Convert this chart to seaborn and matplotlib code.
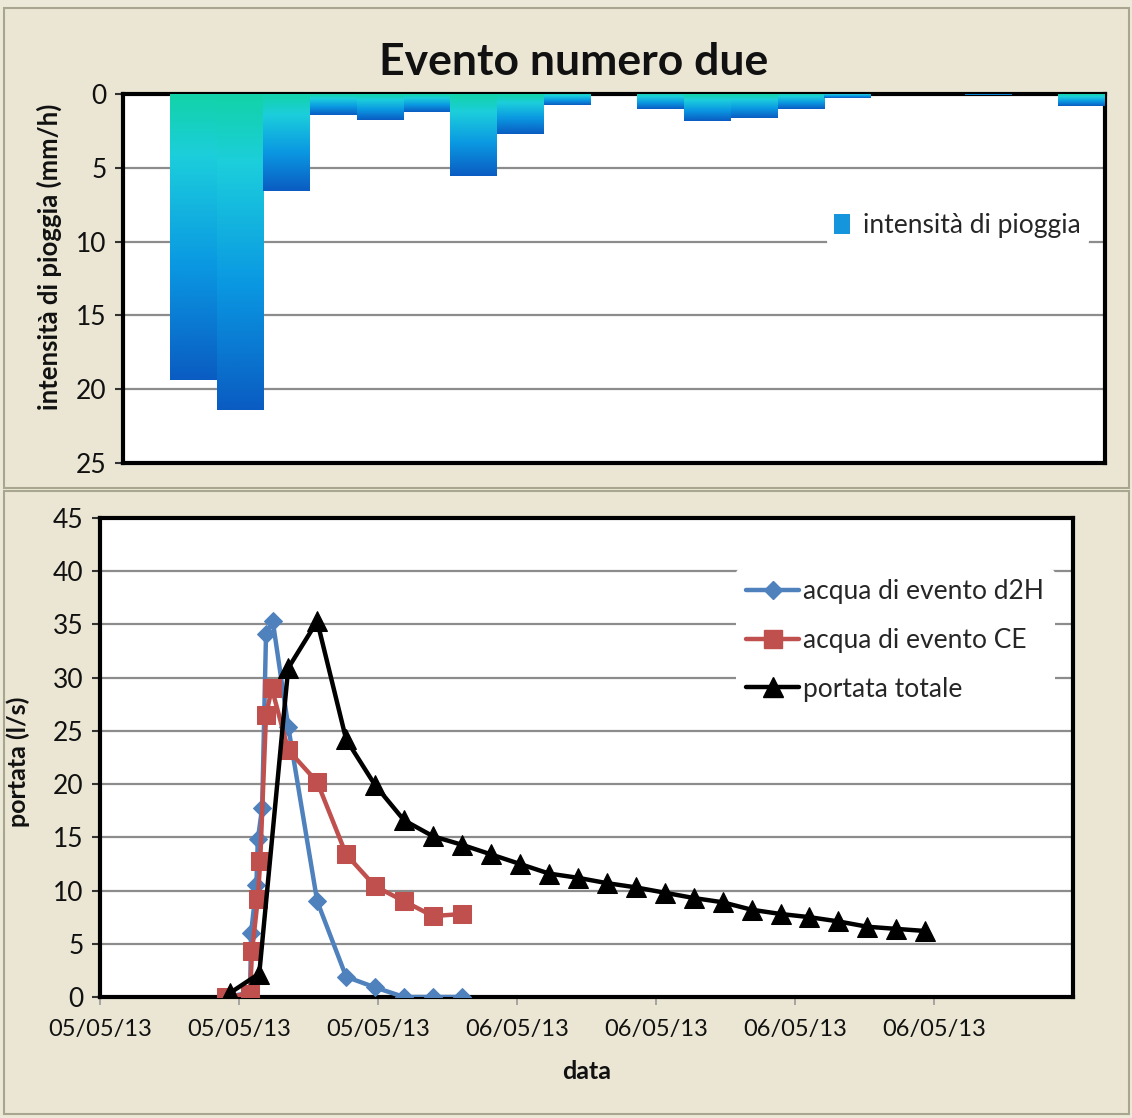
import numpy as np
import pandas as pd
import matplotlib
matplotlib.use("Agg")
import matplotlib.pyplot as plt
import matplotlib.dates as mdates
from matplotlib.ticker import FixedLocator
from matplotlib.colors import LinearSegmentedColormap
from matplotlib.patches import Rectangle, Patch
from matplotlib.lines import Line2D
from matplotlib import font_manager
import seaborn as sns

# ---------------- data ----------------
rain_slot = list(range(21))
rain_intensity = [0, 19.4, 21.4, 6.6, 1.4, 1.75, 1.2, 5.55, 2.7, 0.75, 0,
                  1.05, 1.8, 1.6, 1.05, 0.3, 0, 0, 0.1, 0, 0.8]

d2h_times = ["2013-05-05 16:21", "2013-05-05 17:11", "2013-05-05 17:13",
             "2013-05-05 17:24", "2013-05-05 17:27", "2013-05-05 17:36",
             "2013-05-05 17:44", "2013-05-05 17:58", "2013-05-05 18:30",
             "2013-05-05 19:30", "2013-05-05 20:30", "2013-05-05 21:30",
             "2013-05-05 22:30", "2013-05-05 23:30", "2013-05-06 00:30"]
d2h_values = [0.0, 0.4, 6.0, 10.5, 14.8, 17.8, 34.1, 35.3, 25.4, 9.0, 1.9, 0.9,
              0.0, 0.0, 0.0]

ce_times = ["2013-05-05 16:21", "2013-05-05 17:11", "2013-05-05 17:15",
            "2013-05-05 17:27", "2013-05-05 17:32", "2013-05-05 17:44",
            "2013-05-05 17:56", "2013-05-05 18:30", "2013-05-05 19:30",
            "2013-05-05 20:30", "2013-05-05 21:30", "2013-05-05 22:30",
            "2013-05-05 23:30", "2013-05-06 00:30"]
ce_values = [0.0, 0.3, 4.3, 9.2, 12.8, 26.5, 29.0, 23.2, 20.2, 13.4, 10.4, 9.0,
             7.6, 7.8]

tot_times = ["2013-05-05 16:30", "2013-05-05 17:30", "2013-05-05 18:30",
             "2013-05-05 19:30", "2013-05-05 20:30", "2013-05-05 21:30",
             "2013-05-05 22:30", "2013-05-05 23:30", "2013-05-06 00:30",
             "2013-05-06 01:30", "2013-05-06 02:30", "2013-05-06 03:30",
             "2013-05-06 04:30", "2013-05-06 05:30", "2013-05-06 06:30",
             "2013-05-06 07:30", "2013-05-06 08:30", "2013-05-06 09:30",
             "2013-05-06 10:30", "2013-05-06 11:30", "2013-05-06 12:30",
             "2013-05-06 13:30", "2013-05-06 14:30", "2013-05-06 15:30",
             "2013-05-06 16:30"]
tot_values = [0.4, 2.2, 30.9, 35.3, 24.2, 19.9, 16.6, 15.1, 14.3, 13.4, 12.5,
              11.6, 11.2, 10.7, 10.3, 9.8, 9.3, 8.9, 8.2, 7.8, 7.5, 7.1, 6.6,
              6.4, 6.2]

axis_start = "2013-05-05 12:00"
tick_step_days = 0.2
n_ticks = 7
axis_span_days = 1.4

title = "Evento numero due"
rain_label = "intensità di pioggia"
rain_ylabel = "intensità di pioggia (mm/h)"
q_ylabel = "portata (l/s)"
q_xlabel = "data"
series_labels = ["acqua di evento d2H", "acqua di evento CE", "portata totale"]

# ---------------- style ----------------
sns.set_theme(style="white")
avail = {f.name for f in font_manager.fontManager.ttflist}
fam = [f for f in ["Liberation Sans Narrow", "Lato", "DejaVu Sans"] if f in avail]
plt.rcParams["font.family"] = fam

BG = "#ECE9D8"
fig = plt.figure(figsize=(11.32, 11.18), dpi=100, facecolor=BG)
W, H = 1132, 1118

def fr(x0, y0, x1, y1):
    return [x0 / W, 1 - y1 / H, (x1 - x0) / W, (y1 - y0) / H]

# panels (drawn beneath the axes)
for (x0, y0, x1, y1) in [(4, 8, 1129, 488), (4, 491, 1129, 1114)]:
    fig.patches.append(Rectangle((x0 / W, 1 - y1 / H), (x1 - x0) / W, (y1 - y0) / H,
                                 transform=fig.transFigure, facecolor="#EAE6D3",
                                 edgecolor="#A9A690", linewidth=1.5, zorder=-5))

# ---------------- top chart ----------------
ax1 = fig.add_axes(fr(123, 94, 1105, 463))
ax1.set_zorder(2)
ax1.set_facecolor("white")
sns.barplot(x=rain_slot, y=rain_intensity, width=1.0, color="#1090D8",
            saturation=1, linewidth=0, ax=ax1, zorder=2)
cmap = LinearSegmentedColormap.from_list(
    "rain", [(0, "#12D3A8"), (0.22, "#1CCEDC"), (0.6, "#0A98E2"), (1, "#0A5CC2")])
grad = np.linspace(0, 1, 256).reshape(-1, 1)
for p in list(ax1.patches):
    x0, y0, w, h = p.get_x(), p.get_y(), p.get_width(), p.get_height()
    if h <= 0:
        continue
    im = ax1.imshow(grad, cmap=cmap, aspect="auto", origin="upper",
                    extent=(x0, x0 + w, y0 + h, y0), zorder=3, interpolation="bilinear")
    im.set_clip_path(p)
ax1.set_xlim(-0.5, len(rain_slot) - 0.5)
ax1.set_ylim(25, 0)
ax1.set_yticks([0, 5, 10, 15, 20, 25])
ax1.set_xticks([])
ax1.yaxis.grid(True, color="#8C8C8C", linewidth=1.6, zorder=1)
ax1.set_axisbelow(True)
ax1.tick_params(axis="y", labelsize=19, length=6, width=1.5, color="#333333",
                left=True, pad=6, labelcolor="#111111")
for s in ax1.spines.values():
    s.set_color("black")
    s.set_linewidth(3)
ax1.set_xlabel("")
ax1.set_ylabel(rain_ylabel, fontsize=18.5, fontweight="bold", color="#111111")
ax1.yaxis.set_label_coords(-0.062, 0.56)
fig.text(574 / W, 1 - 62 / H, title, ha="center", va="center",
         fontsize=32, fontweight="bold", color="#111111")
leg1 = ax1.legend(handles=[Patch(facecolor="#1596DC", edgecolor="none")],
                  labels=[rain_label], loc="center left",
                  bbox_to_anchor=(0.703, 0.643), frameon=True, fontsize=19,
                  handlelength=0.6, handleheight=0.8, handletextpad=0.5,
                  borderpad=0.3)
leg1.get_frame().set_facecolor("white")
leg1.get_frame().set_edgecolor("none")
leg1.get_frame().set_alpha(1)

# ---------------- bottom chart ----------------
ax2 = fig.add_axes(fr(100, 518, 1073, 997))
ax2.set_zorder(2)
ax2.set_facecolor("white")
df_d2h = pd.DataFrame({"t": pd.to_datetime(d2h_times), "q": d2h_values})
df_ce = pd.DataFrame({"t": pd.to_datetime(ce_times), "q": ce_values})
df_tot = pd.DataFrame({"t": pd.to_datetime(tot_times), "q": tot_values})

sns.lineplot(data=df_d2h, x="t", y="q", ax=ax2, color="#4F81BD", linewidth=3.2,
             marker="D", markersize=9, markeredgecolor="#4F81BD",
             estimator=None, sort=False, zorder=4)
sns.lineplot(data=df_ce, x="t", y="q", ax=ax2, color="#C0504D", linewidth=3.2,
             marker="s", markersize=13, markeredgecolor="#C0504D",
             estimator=None, sort=False, zorder=5)
sns.lineplot(data=df_tot, x="t", y="q", ax=ax2, color="black", linewidth=3.2,
             marker="^", markersize=14, markeredgecolor="black",
             estimator=None, sort=False, zorder=6)

t0 = pd.Timestamp(axis_start)
x0n = mdates.date2num(t0)
ax2.set_xlim(x0n, x0n + axis_span_days)
ax2.xaxis.set_major_locator(FixedLocator([x0n + k * tick_step_days for k in range(n_ticks)]))
ax2.xaxis.set_major_formatter(mdates.DateFormatter("%d/%m/%y"))
ax2.set_ylim(0, 45)
ax2.set_yticks(range(0, 50, 5))
ax2.yaxis.grid(True, color="#8C8C8C", linewidth=1.6, zorder=1)
ax2.xaxis.grid(False)
ax2.set_axisbelow(True)
ax2.tick_params(axis="y", labelsize=19, length=6, width=1.5, color="#333333",
                left=True, pad=6, labelcolor="#111111")
ax2.tick_params(axis="x", labelsize=17, length=6, width=1.2, color="#999999",
                bottom=True, pad=10, labelcolor="#111111")
for s in ax2.spines.values():
    s.set_color("black")
    s.set_linewidth(3)
ax2.set_xlabel(q_xlabel, fontsize=18, fontweight="bold", color="#111111", labelpad=14)
ax2.set_ylabel(q_ylabel, fontsize=18, fontweight="bold", color="#111111")
ax2.yaxis.set_label_coords(-0.072, 0.49)

handles = [
    Line2D([], [], color="#4F81BD", linewidth=3.2, marker="D", markersize=9),
    Line2D([], [], color="#C0504D", linewidth=3.2, marker="s", markersize=13),
    Line2D([], [], color="black", linewidth=3.2, marker="^", markersize=14),
]
leg2 = ax2.legend(handles=handles, labels=series_labels, loc="upper left",
                  bbox_to_anchor=(0.64, 0.922), frameon=True, fontsize=19,
                  handlelength=2.0, handletextpad=0.15, labelspacing=0.9,
                  borderpad=0.4)
leg2.get_frame().set_facecolor("white")
leg2.get_frame().set_edgecolor("none")
leg2.get_frame().set_alpha(1)

fig.savefig("out.png", dpi=100, facecolor=BG)
